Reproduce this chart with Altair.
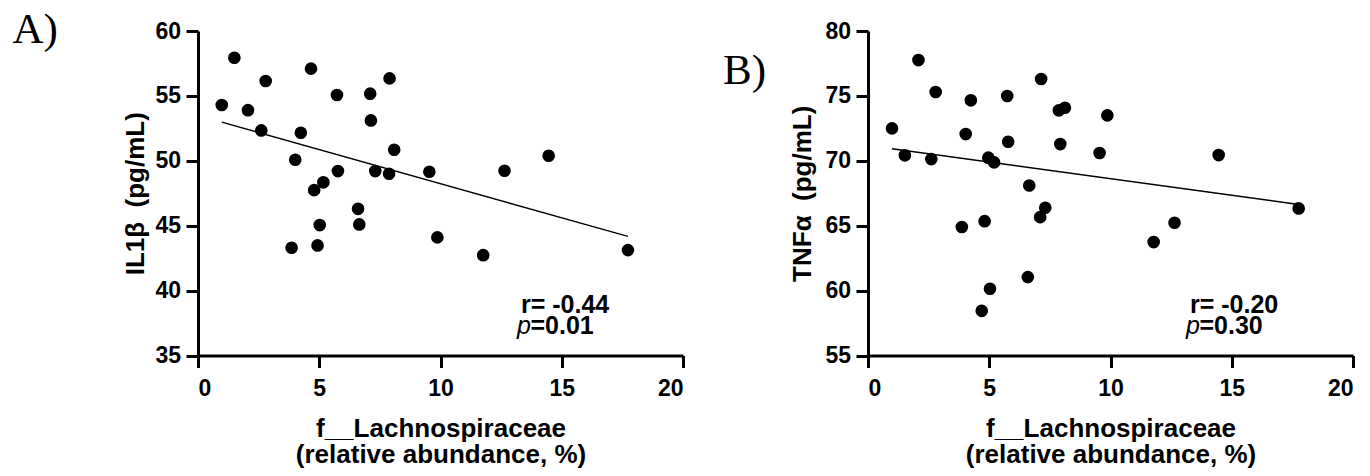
import altair as alt
import pandas as pd

# ---------------- data ----------------
lach_a = [0.98, 1.50, 2.06, 2.79, 2.61, 4.24, 4.66, 4.01, 3.86, 4.79, 5.17, 5.02, 4.93, 5.73, 5.77,
          6.60, 6.65, 7.10, 7.13, 7.31, 7.90, 7.88, 8.09, 9.54, 9.87, 11.76, 12.64, 14.46, 17.73]
il1b = [54.3, 57.94, 53.9, 56.15, 52.34, 52.16, 57.1, 50.08, 43.3, 47.74, 48.34, 45.05, 43.48, 55.07, 49.21,
        46.3, 45.1, 55.17, 53.11, 49.21, 56.35, 49.0, 50.85, 49.16, 44.1, 42.73, 49.23, 50.39, 43.12]

lach_b = [0.99, 1.52, 2.08, 2.79, 2.61, 4.24, 4.03, 3.87, 4.81, 4.96, 5.20, 5.03, 4.69, 5.74, 5.78,
          6.65, 6.59, 7.14, 7.10, 7.31, 7.87, 8.12, 7.93, 9.87, 9.55, 11.78, 12.64, 14.46, 17.76]
tnfa = [72.5, 70.42, 77.76, 75.3, 70.13, 74.66, 72.06, 64.9, 65.35, 70.24, 69.88, 60.14, 58.44, 74.99, 71.47,
        68.1, 61.04, 76.3, 65.66, 66.38, 73.89, 74.09, 71.29, 73.5, 70.6, 63.74, 65.23, 70.44, 66.33]

x_ticks = [0, 5, 10, 15, 20]
y_ticks_a = [35, 40, 45, 50, 55, 60]
y_ticks_b = [55, 60, 65, 70, 75, 80]

x_title = ["f__Lachnospiraceae", "(relative abundance, %)"]
y_title_a = "IL1β\u00a0 (pg/mL)"
y_title_b = "TNFα\u00a0 (pg/mL)"
panel_letters = ["A)", "B)"]
r_texts = ["r= -0.44", "r= -0.20"]
p_values = ["=0.01", "=0.30"]

SANS = "Liberation Sans"
SERIF = "Liberation Serif"
W, H = 485, 324.5

AXIS_STYLE = dict(
    grid=False,
    domainColor="#000000", domainWidth=3,
    tickColor="#000000", tickWidth=3, tickSize=12,
    labelFont=SANS, labelFontSize=23, labelFontWeight=700, labelColor="#000000",
    titleFont=SANS, titleFontSize=26, titleFontWeight=700, titleColor="#000000",
)


def panel(xs, ys, ytitle, yticks, letter, letter_x, letter_y, r_text, p_val, ann_x, title_x):
    df = pd.DataFrame({"x": xs, "y": ys})
    base = alt.Chart(df)
    xscale = alt.Scale(domain=[0, 20], nice=False, zero=False)
    yscale = alt.Scale(domain=[yticks[0], yticks[-1]], nice=False, zero=False)
    xenc = alt.X(
        "x:Q", scale=xscale,
        axis=alt.Axis(values=x_ticks, title=x_title, titleX=W / 2, titleY=80.5,
                      titleBaseline="alphabetic", titleAlign="center", titleLineHeight=26,
                      labelPadding=10, **AXIS_STYLE),
    )
    yenc = alt.Y(
        "y:Q", scale=yscale,
        axis=alt.Axis(values=yticks, title=ytitle, titleX=title_x, titleY=H / 2,
                      titleAngle=270, titleBaseline="alphabetic", titleAlign="center",
                      labelPadding=5.5, **AXIS_STYLE),
    )
    pts = base.mark_circle(size=160, color="black", opacity=1).encode(x=xenc, y=yenc)
    fit = base.transform_regression("x", "y").mark_line(color="black", strokeWidth=1.4).encode(
        x=xenc, y=yenc)

    def txt(s, x, y, size, font, weight="bold", style="normal"):
        return alt.Chart(pd.DataFrame({"t": [s]})).mark_text(
            align="left", baseline="alphabetic", fontSize=size, font=font,
            fontWeight=weight, fontStyle=style, color="black",
        ).encode(x=alt.value(x), y=alt.value(y), text="t:N")

    lab = txt(letter, letter_x, letter_y, 43, SERIF, weight="normal")
    r_t = txt(r_text, ann_x + 4, 281.7, 25, SANS)
    p_t = txt("p", ann_x, 303, 25, SANS, weight="normal", style="italic")
    pv_t = txt(p_val, ann_x + 13.5, 303, 25, SANS)
    return alt.layer(pts, fit, r_t, p_t, pv_t, lab).properties(width=W, height=H)


a = panel(lach_a, il1b, y_title_a, y_ticks_a, panel_letters[0], -185.5, 11.7,
          r_texts[0], p_values[0], 319, -55)
b = panel(lach_b, tnfa, y_title_b, y_ticks_b, panel_letters[1], -145, 53,
          r_texts[1], p_values[1], 318, -58)

chart = alt.hconcat(a, b, spacing=185, bounds="flush").properties(
    padding={"left": 4, "top": 0, "right": 5, "bottom": 0}
).configure_view(stroke=None).configure_axis(**AXIS_STYLE)

chart.save("out.html", embed_options={"renderer": "svg", "actions": False})
